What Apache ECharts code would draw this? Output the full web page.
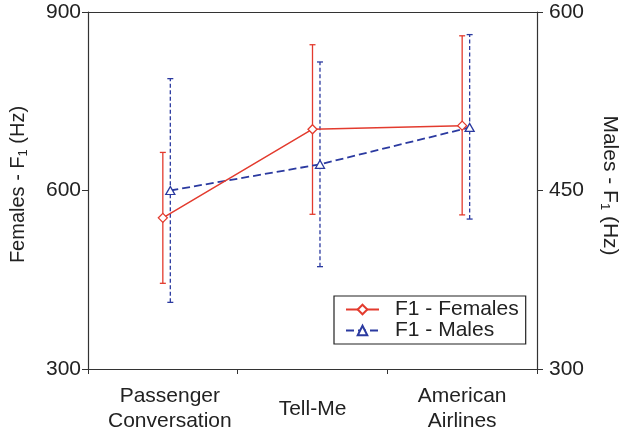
<!DOCTYPE html>
<html><head><meta charset="utf-8">
<script src="https://cdn.jsdelivr.net/npm/echarts@6/dist/echarts.min.js"></script>
<style>html,body{margin:0;padding:0;background:#fff}#c{width:619px;height:436px}</style>
</head><body><div id="c"></div>
<script>
const categories = ['Passenger\nConversation', 'Tell-Me', 'American\nAirlines'];
const femaleMean = [554, 703, 709];
const femaleLow  = [444, 560, 559];
const femaleHigh = [664, 845, 860];
const maleMean = [450, 472, 503];
const maleLow  = [356, 386, 426];
const maleHigh = [544, 558, 581];
const leftTicks = [300, 600, 900];
const rightTicks = [300, 450, 600];

const RED = '#e33b2e', BLUE = '#2b3aa0', AX = '#333';
const FONT = 'Liberation Sans, Arial, Helvetica, sans-serif';
const shift = 0.05;

function errBar(color, dash, capHalf) {
  return function (params, api) {
    const x = api.value(0);
    const lo = api.coord([x, api.value(1)]);
    const hi = api.coord([x, api.value(2)]);
    const st = {stroke: color, lineWidth: 1.3, lineDash: dash};
    return {type: 'group', children: [
      {type: 'line', shape: {x1: lo[0], y1: lo[1], x2: hi[0], y2: hi[1]}, style: st},
      {type: 'line', shape: {x1: lo[0]-capHalf, y1: lo[1], x2: lo[0]+capHalf, y2: lo[1]}, style: {stroke: color, lineWidth: 1.3}},
      {type: 'line', shape: {x1: hi[0]-capHalf, y1: hi[1], x2: hi[0]+capHalf, y2: hi[1]}, style: {stroke: color, lineWidth: 1.3}}
    ]};
  };
}

const chart = echarts.init(document.getElementById('c'), null, {renderer: 'canvas'});
const sub = {s: {fontSize: 13, fontFamily: FONT, color: '#222', padding: [11, 0, 0, 0]}};
const catData = categories.map((c, i) => {
  if (i === 0) return {value: c, textStyle: {padding: [0, 0, 0, 14]}};
  if (i === 1) return {value: c, textStyle: {padding: [13, 0, 0, 0]}};
  return c;
});
chart.setOption({
  animation: false,
  textStyle: {fontFamily: FONT},
  grid: {left: 88, right: 82, top: 12, bottom: 67, containLabel: false, outerBoundsMode: 'none'},
  legend: {
    orient: 'vertical', left: 334, top: 296,
    borderColor: '#222', borderWidth: 1.2,
    padding: [3, 7, 3, 11], itemGap: 0,
    itemWidth: 33, itemHeight: 12,
    textStyle: {fontSize: 21, color: '#222', fontFamily: FONT, padding: [0, 0, 0, 11]},
    data: ['F1 - Females', 'F1 - Males']
  },
  xAxis: [{
    type: 'category', data: catData,
    boundaryGap: true,
    axisLine: {onZero: false, lineStyle: {color: AX, width: 1.2}},
    axisTick: {show: true, length: 5, alignWithLabel: false, lineStyle: {color: AX}},
    axisLabel: {fontSize: 21, color: '#222', lineHeight: 25, margin: 15, interval: 0}
  }, {
    type: 'value', position: 'top', min: -0.5 - shift, max: 2.5 - shift,
    axisLine: {show: true, onZero: false, lineStyle: {color: AX, width: 1.2}},
    axisTick: {show: false}, axisLabel: {show: false}, splitLine: {show: false}
  }],
  yAxis: [{
    type: 'value', min: 300, max: 900, interval: 300,
    name: 'Females - F{s|1} (Hz)', nameLocation: 'middle', nameGap: 58,
    nameTextStyle: {fontSize: 20, color: '#222', rich: sub, padding: [0, 0, 0, 12]},
    axisLine: {show: true, onZero: false, lineStyle: {color: AX, width: 1.2}},
    axisTick: {show: true, length: 6, lineStyle: {color: AX}},
    axisLabel: {fontSize: 21, color: '#222', margin: 7},
    splitLine: {show: false}
  }, {
    type: 'value', min: 300, max: 600, interval: 150, position: 'right',
    name: 'Males - F{s|1} (Hz)', nameLocation: 'middle', nameGap: 61, nameRotate: -90,
    nameTextStyle: {fontSize: 21, color: '#222', rich: sub, padding: [0, 10, 0, 0]},
    axisLine: {show: true, onZero: false, lineStyle: {color: AX, width: 1.2}},
    axisTick: {show: true, length: 6, lineStyle: {color: AX}},
    axisLabel: {fontSize: 21, color: '#222', margin: 12},
    splitLine: {show: false}
  }],
  series: [{
    type: 'custom', name: 'femErr', xAxisIndex: 0, yAxisIndex: 0,
    renderItem: errBar(RED, null, 3),
    data: femaleMean.map((m, i) => [i, femaleLow[i], femaleHigh[i]]), z: 2, silent: true
  }, {
    type: 'custom', name: 'maleErr', xAxisIndex: 1, yAxisIndex: 1,
    renderItem: errBar(BLUE, [4, 2.5], 3),
    data: maleMean.map((m, i) => [i, maleLow[i], maleHigh[i]]), z: 2, silent: true
  }, {
    type: 'line', name: 'F1 - Males', xAxisIndex: 1, yAxisIndex: 1,
    data: maleMean.map((m, i) => [i, m]),
    symbol: 'triangle', symbolSize: [9, 8], showSymbol: true,
    lineStyle: {color: BLUE, width: 1.8, type: [8, 4]},
    itemStyle: {color: '#fff', borderColor: BLUE, borderWidth: 1.3},
    z: 3
  }, {
    type: 'line', name: 'F1 - Females', xAxisIndex: 0, yAxisIndex: 0,
    data: femaleMean,
    symbol: 'diamond', symbolSize: 9, showSymbol: true,
    lineStyle: {color: RED, width: 1.5},
    itemStyle: {color: '#fff', borderColor: RED, borderWidth: 1.3},
    z: 4
  }]
});
</script></body></html>
